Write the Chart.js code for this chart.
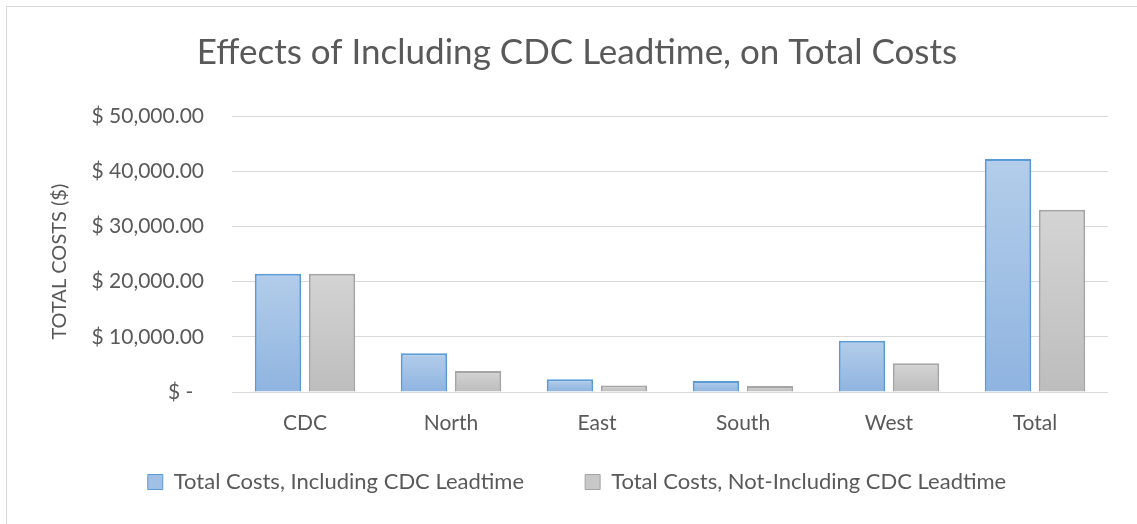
<!DOCTYPE html>
<html>
<head>
<meta charset="utf-8">
<script src="https://cdn.jsdelivr.net/npm/chart.js@4"></script>
<style>
    html, body { margin: 0; padding: 0; background: #fff; overflow: hidden; }
    #frame {
        position: absolute; left: 6px; top: 6px;
        width: 1200px; height: 600px;
        border: 1px solid #d9d9d9;
    }
    canvas { position: absolute; left: 0; top: 0; }
</style>
</head>
<body>
<div id="frame"></div>
<canvas id="costChart" width="1137" height="524"></canvas>
<script>
// 各區域的總成本
const categories = ["CDC", "North", "East", "South", "West", "Total"];
const withLeadtime = [21400, 7000, 2300, 2000, 9300, 42200];
const withoutLeadtime = [21400, 3800, 1200, 1100, 5200, 33000];
const yTicks = [0, 10000, 20000, 30000, 40000, 50000];

const textColor = "#595959";
const fontFamily = "Lato, 'Open Sans', sans-serif";

// 每根長條由上而下的漸層
function barGradient(top, bottom, fallback) {
    return function (context) {
        const chart = context.chart;
        if (!chart.chartArea || context.type !== "data") return fallback;
        const y = chart.scales.y;
        const yTop = y.getPixelForValue(context.raw);
        const yBottom = y.getPixelForValue(0);
        const g = chart.ctx.createLinearGradient(0, yTop, 0, yBottom);
        g.addColorStop(0, top);
        g.addColorStop(1, bottom);
        return g;
    };
}

function money(v) {
    if (v === 0) return "$ -  ";
    return "$ " + v.toLocaleString("en-US", { minimumFractionDigits: 2, maximumFractionDigits: 2 });
}

const ctx = document.getElementById("costChart").getContext("2d");
new Chart(ctx, {
    type: "bar",
    data: {
        labels: categories,
        datasets: [
            {
                label: "Total Costs, Including CDC Leadtime",
                data: withLeadtime,
                backgroundColor: barGradient("#b3cdea", "#8fb4e0", "#a2c0e5"),
                borderColor: "#5b9bd5",
                borderWidth: 2,
                legendFill: "#a2c0e5",
            },
            {
                label: "Total Costs, Not-Including CDC Leadtime",
                data: withoutLeadtime,
                backgroundColor: barGradient("#d4d4d4", "#bdbdbd", "#c8c8c8"),
                borderColor: "#a5a5a5",
                borderWidth: 2,
                legendFill: "#c8c8c8",
            },
        ],
    },
    options: {
        responsive: false,
        animation: false,
        layout: { padding: { left: 46, right: 29, top: 0, bottom: 21 } },
        datasets: {
            bar: { categoryPercentage: 0.74, barPercentage: 0.86 },
        },
        plugins: {
            title: {
                display: true,
                text: "Effects of Including CDC Leadtime, on Total Costs",
                color: textColor,
                font: { family: fontFamily, size: 35, weight: "normal" },
                padding: { top: 32, bottom: 42 },
            },
            legend: {
                position: "bottom",
                labels: {
                    color: textColor,
                    font: { family: fontFamily, size: 22 },
                    boxWidth: 15,
                    boxHeight: 15,
                    padding: 16,
                    generateLabels: function (chart) {
                        // 第一項後面多留一段空白，拉開兩個圖例的距離
                        return chart.data.datasets.map((ds, i) => ({
                            text: i === 0 ? ds.label + "        " : ds.label,
                            fillStyle: ds.legendFill,
                            strokeStyle: ds.borderColor,
                            lineWidth: 1,
                            fontColor: textColor,
                            datasetIndex: i,
                        }));
                    },
                },
            },
            tooltip: { enabled: false },
        },
        scales: {
            x: {
                afterFit: function (scale) { scale.height = 63; },
                grid: { display: false },
                border: { display: false },
                ticks: {
                    color: textColor,
                    font: { family: fontFamily, size: 21 },
                    padding: 11,
                },
            },
            y: {
                min: 0,
                max: 50000,
                afterFit: function (scale) { scale.width = 186; },
                afterBuildTicks: function (scale) {
                    scale.ticks = yTicks.map(v => ({ value: v }));
                },
                grid: { color: "#d9d9d9", lineWidth: 1, drawTicks: false },
                border: { display: false },
                ticks: {
                    color: textColor,
                    font: { family: fontFamily, size: 21 },
                    padding: 28,
                    callback: function (value) { return money(value); },
                },
                title: {
                    display: true,
                    // 尾端空白讓標題稍微往下
                    text: "TOTAL COSTS ($)   ",
                    color: textColor,
                    font: { family: fontFamily, size: 20 },
                    padding: { top: 2, bottom: 0 },
                },
            },
        },
    },
});
</script>
</body>
</html>
